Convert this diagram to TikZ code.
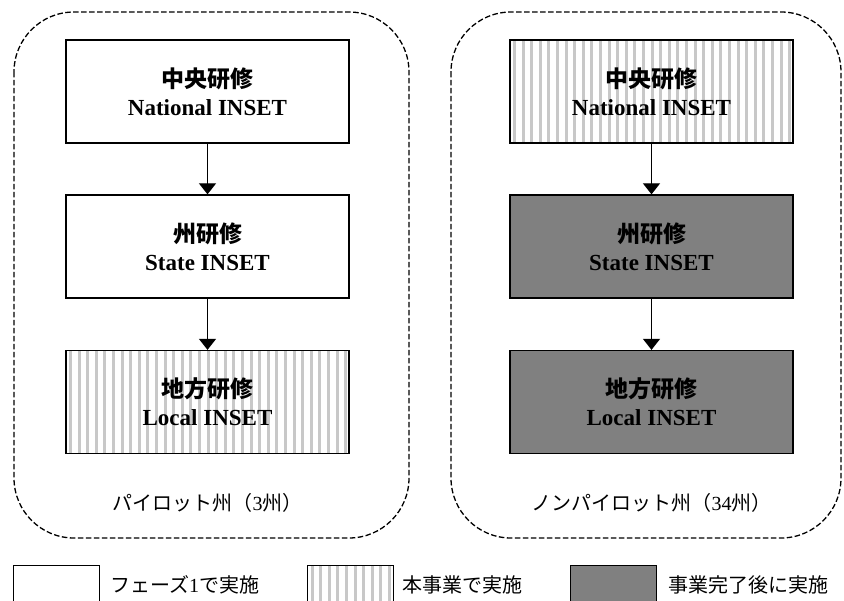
\documentclass[tikz,border=0pt]{standalone}
\usepackage{fontspec}
\setmainfont{Liberation Serif}
\newfontfamily\cjk{Noto Sans CJK JP}
\usetikzlibrary{arrows.meta}
\definecolor{stripe}{HTML}{C8C8C8}
\definecolor{later}{HTML}{808080}
\tikzset{
  grp/.style={draw=black, line width=1.3pt, dash pattern=on 5.5pt off 2.5pt, rounded corners=60pt},
  stagebox/.style={draw=black, line width=1.3pt, minimum width=283pt, minimum height=103pt,
    inner sep=0pt, align=center, font=\fontsize{23}{28}\selectfont\bfseries},
  phaseone/.style={stagebox, fill=white},
  thisproj/.style={stagebox, fill=white, path picture={
      \foreach \i in {0,...,40}
        \fill[stripe] ([xshift=\i*8.6pt+3pt]path picture bounding box.south west)
          rectangle ([xshift=\i*8.6pt+6pt]path picture bounding box.north west);}},
  afterproj/.style={stagebox, fill=later},
  flow/.style={line width=1.3pt, -{Triangle[width=17pt,length=11pt]}},
  grouplabel/.style={font=\cjk\fontsize{20}{24}\selectfont},
  legbox/.style={draw=black, line width=1.3pt, minimum width=86pt, minimum height=50pt, inner sep=0pt, anchor=north west},
  legtext/.style={font=\cjk\fontsize{20}{24}\selectfont, anchor=west, inner sep=0pt},
}
\newcommand{\jb}[1]{{\cjk\bfseries #1}}
\begin{document}
\begin{tikzpicture}[x=1pt,y=-1pt]
\useasboundingbox (0,0) rectangle (844,601);
\clip (0,0) rectangle (844,601);
\fill[white] (0,0) rectangle (844,601);
% groups
\draw[grp] (14,12) rectangle (409,538);
\draw[grp] (451,12) rectangle (841,538);
% left column
\node[phaseone] (lnat) at (207.5,91.5) {\jb{中央研修}\\National INSET};
\node[phaseone] (lsta) at (207.5,246.5) {\jb{州研修}\\State INSET};
\node[thisproj] (lloc) at (207.5,402) {\jb{地方研修}\\Local INSET};
\draw[flow] (lnat) -- (lsta);
\draw[flow] (lsta) -- (lloc);
\node[grouplabel] (llab) at (207.5,503) {パイロット州（{\rmfamily 3}州）};
% right column
\node[thisproj] (rnat) at (651.5,91.5) {\jb{中央研修}\\National INSET};
\node[afterproj] (rsta) at (651.5,246.5) {\jb{州研修}\\State INSET};
\node[afterproj] (rloc) at (651.5,402) {\jb{地方研修}\\Local INSET};
\draw[flow] (rnat) -- (rsta);
\draw[flow] (rsta) -- (rloc);
\node[grouplabel] (rlab) at (651.5,503) {ノンパイロット州（{\rmfamily 34}州）};
% legend
\node[legbox, fill=white] (k1) at (13,565) {};
\node[legtext] (t1) at (110,585) {フェーズ{\rmfamily 1}で実施};
\node[legbox, fill=white, path picture={
      \foreach \i in {0,...,12}
        \fill[stripe] ([xshift=\i*8.6pt+3pt]path picture bounding box.south west)
          rectangle ([xshift=\i*8.6pt+6pt]path picture bounding box.north west);}] (k2) at (307,565) {};
\node[legtext] (t2) at (402,585) {本事業で実施};
\node[legbox, fill=later] (k3) at (570,565) {};
\node[legtext] (t3) at (668,585) {事業完了後に実施};
\end{tikzpicture}
\end{document}
